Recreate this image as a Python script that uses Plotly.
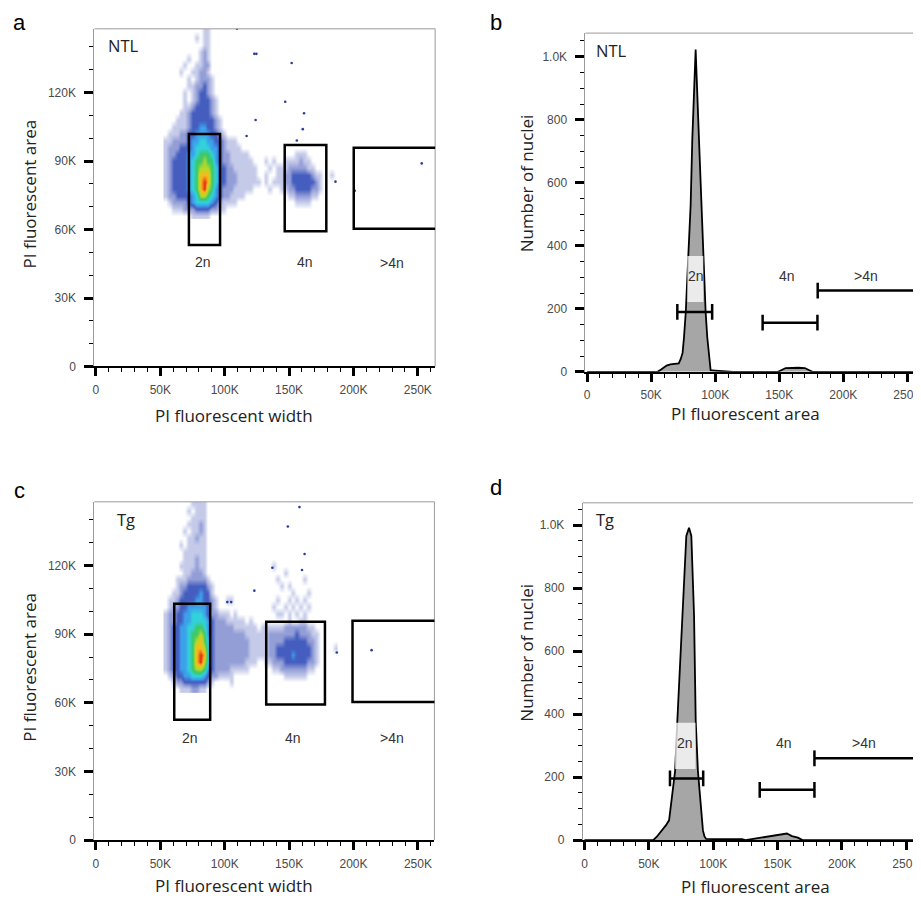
import plotly.graph_objects as go

# ---------------- data ----------------
W, H = 921, 906           # target window
OFF = 8                   # default page margin around the plot div
FW, FH = W - OFF, H - OFF  # figure size so that its right/bottom meet the window edge

# tick labels
scatter_x_tickvals = [0, 50000, 100000, 150000, 200000, 250000]
scatter_x_ticktext = ["0", "50K", "100K", "150K", "200K", "250K"]
scatter_y_tickvals = [0, 30000, 60000, 90000, 120000]
scatter_y_ticktext = ["0", "30K", "60K", "90K", "120K"]
hist_y_tickvals = [0, 200, 400, 600, 800, 1000]
hist_y_ticktext = ["0", "200", "400", "600", "800", "1.0K"]

# density grid (values in thousands); rows listed from top (147K) to bottom (66K)
grid_x_k = [54, 57, 60, 63, 66, 69, 72, 75, 78, 81, 84, 87, 90, 93, 96, 99, 102, 105, 108, 111,
            114, 117, 120, 123, 126, 129, 132, 135, 138, 141, 144, 147, 150, 153, 156, 159, 162,
            165, 168, 171, 174, 177, 180, 183, 186]
grid_y_k = [147, 144, 141, 138, 135, 132, 129, 126, 123, 120, 117, 114, 111, 108, 105, 102, 99,
            96, 93, 90, 87, 84, 81, 78, 75, 72, 69, 66]

# density level 0..9 per cell (estimated colour level of the dot cloud)
ntl_density_rows = [
    "00000 00000 11000 00000 00000 00000 00000 00000 00000",  # 147
    "00000 00010 11000 00000 00000 00000 00000 00000 00000",  # 144
    "00000 00000 11000 00000 00000 00000 00000 00000 00000",  # 141
    "00000 00001 21000 00000 00000 00000 00000 00000 00000",  # 138
    "00000 01001 21000 00000 00000 00000 00000 00000 00000",  # 135
    "00000 10011 22000 00000 00000 00000 00000 00000 00000",  # 132
    "00001 00112 21000 00000 00000 00000 00000 00000 00000",  # 129
    "00000 01012 22100 00000 00000 00000 00000 00000 00000",  # 126
    "00000 01122 32100 00000 00000 00000 00000 00000 00000",  # 123
    "00000 10123 32100 00000 00000 00000 00000 00000 00000",  # 120
    "00000 10123 33210 00000 00000 00000 00000 00000 00000",  # 117
    "00000 11233 33210 00000 00000 00000 00000 00000 00000",  # 114
    "00001 12333 33210 00000 00000 00000 00000 00000 00000",  # 111
    "00011 12333 33321 00000 00000 00000 00000 00000 00000",  # 108
    "00111 12334 43321 00000 00000 00000 00000 00000 00000",  # 105
    "01112 23344 44332 10000 00000 00000 00000 00000 00000",  # 102
    "11222 23445 54433 21110 00000 00000 00000 00000 00000",  # 99
    "12223 33455 55443 21111 00000 00000 00000 00000 00000",  # 96
    "12233 34456 66543 22111 11000 00000 00001 11000 00000",  # 93
    "12333 34566 76643 22111 11100 01010 01111 21100 00000",  # 90
    "12333 34567 77653 32211 11110 00101 11222 22110 00000",  # 87
    "12333 34568 88653 32221 11110 01001 12233 33321 10010",  # 84
    "12333 34568 98653 32221 11111 01011 12233 33332 10000",  # 81
    "12333 34568 97643 22211 11100 00100 11223 33322 10000",  # 78
    "12233 33457 76543 22111 10000 00000 00112 22211 00000",  # 75
    "01222 23455 55432 11110 00000 00000 00001 11100 00000",  # 72
    "00111 22233 33221 10000 00000 00000 00000 00000 00000",  # 69
    "00000 00111 11000 00000 00000 00000 00000 00000 00000",  # 66
]
tg_density_rows = [
    "00000 00111 10000 00000 00000 00000 00000 00000 00000",  # 147
    "00000 01011 10000 00000 00000 00000 00000 00000 00000",  # 144
    "00000 00111 10000 00000 00000 00000 00000 00000 00000",  # 141
    "00000 01112 10000 00000 00000 00000 00000 00000 00000",  # 138
    "00000 10112 10000 00000 00000 00000 00000 00000 00000",  # 135
    "00000 01121 10000 00000 00000 00000 00000 00000 00000",  # 132
    "00001 01111 10000 00000 00000 00000 00000 00000 00000",  # 129
    "00000 11111 10000 00000 00000 00000 00000 00000 00000",  # 126
    "00000 11121 10000 00000 00000 00000 00000 00000 00000",  # 123
    "00001 11121 10000 00000 00000 00010 00000 00000 00000",  # 120
    "00000 11222 10000 00000 00000 00000 01000 00000 00000",  # 117
    "00011 12222 21000 00000 00000 00001 00000 01000 00000",  # 114
    "00012 23333 32100 00000 00000 00000 10100 00000 00000",  # 111
    "00112 33334 33100 00000 00000 00000 00010 00100 00000",  # 108
    "01123 33344 33210 01100 00000 00001 00101 01000 00000",  # 105
    "01223 34444 43210 00000 00000 00010 01010 10100 00000",  # 102
    "12233 44555 43221 11010 00000 00001 10101 01000 00000",  # 99
    "12233 44555 54322 21111 10100 00000 00100 11000 00000",  # 96
    "12334 45566 54322 22211 11110 11111 12222 22110 00000",  # 93
    "12334 45667 64322 22222 21111 11222 22223 22211 00000",  # 90
    "12334 45678 65322 22222 22111 11222 23333 33221 00000",  # 87
    "12334 45688 75322 22222 22111 11223 33333 33321 00001",  # 84
    "12334 45689 85322 22222 22111 11223 33343 33321 00000",  # 81
    "12334 45689 75322 22222 21110 01122 23333 33221 00000",  # 78
    "12334 45677 64322 22111 11000 00011 22222 22110 00000",  # 75
    "01233 44555 43221 11100 00000 00000 01111 11000 00000",  # 72
    "00122 33333 32100 00100 00000 00000 00000 00000 00000",  # 69
    "00001 11221 10000 00000 00000 00000 00000 00000 00000",  # 66
]

# isolated events (thousands)
ntl_out_x_k = [123, 124.6, 152, 147, 161.6, 160.6, 156, 124, 117, 253, 201, 186, 109.5]
ntl_out_y_k = [137, 137, 133, 116, 111, 104, 99, 108, 101, 89, 77, 81, 148]
tg_out_x_k = [149, 162, 187, 214, 158, 123, 137, 160, 102, 105]
tg_out_y_k = [137, 125, 82, 83, 145.5, 109, 119, 118, 104, 104]

# scatter gates (thousands): name, x0, x1, y0, y1
ntl_boxes = [("2n", 72.2, 96.4, 53.2, 101.9), ("4n", 146.6, 178.9, 59.3, 97.1), (">4n", 200.2, 262.144, 60.4, 95.8)]
tg_boxes = [("2n", 60.8, 88.7, 52.6, 103.3), ("4n", 132.2, 177.8, 59.3, 95.4), (">4n", 199.2, 262.144, 60.3, 95.8)]
ntl_box_labels = [("2n", 83.3, 45.8), ("4n", 162.0, 45.8), (">4n", 230.0, 45.3)]
tg_box_labels = [("2n", 73.4, 44.6), ("4n", 153.0, 44.6), (">4n", 230.0, 44.6)]

# histograms (x in thousands, counts)
ntl_hist_x_k = [0, 55, 58, 62, 65, 71.5, 73, 74.5, 75.6, 77, 79, 80.8, 82.1, 84.7, 87.3, 89.1, 90.4,
                92.5, 93.8, 95.1, 96.4, 100, 112, 114, 149, 152, 155, 165, 170, 173, 176, 262.144]
ntl_hist_counts = [0, 0, 8, 20, 24, 27, 40, 60, 109, 190, 371, 529, 739, 1023, 739, 529, 371,
                   190, 109, 50, 5, 4, 2, 0, 0, 5, 12, 13, 12, 6, 0, 0]
tg_hist_x_k = [0, 53.4, 56, 59.3, 63.2, 65.7, 67.0, 68.8, 70.4, 72.1, 74, 76.0, 79.1, 81.2, 83.0,
               85.1, 86.4, 88.1, 90.2, 91.2, 92.0, 93.2, 94.5, 100, 110, 122.4, 125, 130, 137.9,
               145.6, 152, 157.2, 161.1, 165.7, 169.3, 262.144]
tg_hist_counts = [0, 0, 10, 26, 47, 63, 105, 160, 220, 378, 540, 714, 966, 992, 966, 714, 378,
                  220, 105, 60, 31, 12, 4, 3, 3, 3, 0, 3, 8, 13, 16, 21, 13, 8, 0, 0]

# histogram gates: name, x0 (K), x1 (K), count level
ntl_gates = [("2n", 70.4, 97.6, 190), ("4n", 137.0, 179.8, 156), (">4n", 180.0, 262.144, 258)]
tg_gates = [("2n", 66.4, 92.2, 196), ("4n", 136.1, 178.6, 160), (">4n", 178.6, 262.144, 260)]
ntl_gate_labels = [("2n", 84.7, 303), ("4n", 156.2, 303), (">4n", 218.1, 303)]
tg_gate_labels = [("2n", 78.4, 307), ("4n", 155.0, 307), (">4n", 216.9, 307)]
ntl_label_bg = (78.2, 90.7, 222, 368)
tg_label_bg = (70.4, 86.3, 226, 373)

# ---------------- figure ----------------
TICK_FONT = dict(family="Liberation Sans, Arial, sans-serif", size=12, color="#4a4a4a")
TITLE_FONT = dict(family="Open Sans, sans-serif", size=17, color="#222")


def fx(px):
    return (px - OFF) / FW


def fy(py):
    return 1 - (py - OFF) / FH


colorscale = [
    [0.0, "rgba(40,60,170,0)"],
    [1 / 9, "rgba(45,65,175,0.28)"],
    [2 / 9, "rgba(40,62,175,0.5)"],
    [3 / 9, "rgba(35,65,180,0.85)"],
    [4 / 9, "rgb(60,160,235)"],
    [5 / 9, "rgb(50,210,220)"],
    [6 / 9, "rgb(60,200,105)"],
    [7 / 9, "rgb(180,218,40)"],
    [8 / 9, "rgb(250,185,30)"],
    [1.0, "rgb(230,40,20)"],
]


def parse(rows):
    return [[int(c) for c in r.replace(" ", "")] for r in rows]


fig = go.Figure()

for rows, ox, oy, xa, ya in [(ntl_density_rows, ntl_out_x_k, ntl_out_y_k, "x", "y"),
                             (tg_density_rows, tg_out_x_k, tg_out_y_k, "x3", "y3")]:
    z = parse(rows)[::-1]
    fig.add_trace(go.Heatmap(
        x=[v * 1000 for v in grid_x_k], y=[v * 1000 for v in grid_y_k[::-1]], z=z,
        zmin=0, zmax=9, colorscale=colorscale, zsmooth="best", showscale=False,
        hoverinfo="skip", xaxis=xa, yaxis=ya))
    fig.add_trace(go.Scatter(
        x=[v * 1000 for v in ox], y=[v * 1000 for v in oy], mode="markers",
        marker=dict(size=2.6, color="#2b3d9a"), hoverinfo="skip", xaxis=xa, yaxis=ya,
        showlegend=False))

for hx, hc, xa, ya in [(ntl_hist_x_k, ntl_hist_counts, "x2", "y2"),
                       (tg_hist_x_k, tg_hist_counts, "x4", "y4")]:
    fig.add_trace(go.Scatter(
        x=[v * 1000 for v in hx], y=hc, mode="lines", fill="tozeroy",
        fillcolor="#a6a6a6", line=dict(color="black", width=1.8),
        hoverinfo="skip", xaxis=xa, yaxis=ya, showlegend=False))


def xaxis(domain, rng, anchor):
    return dict(domain=domain, range=rng, anchor=anchor, showline=True, linecolor="black",
                linewidth=2, ticks="outside", ticklen=8, tickwidth=2.5, tickcolor="black",
                tickmode="array", tickvals=scatter_x_tickvals, ticktext=scatter_x_ticktext,
                tickfont=TICK_FONT, showgrid=False, zeroline=False, ticklabelstandoff=3,
                ticklabeloverflow="allow",
                minor=dict(ticks="outside", ticklen=4, tickwidth=1.3, tickcolor="black",
                           tickmode="linear", tick0=0, dtick=10000, showgrid=False))


def yaxis(domain, rng, anchor, tv, tt, mdt):
    return dict(domain=domain, range=rng, anchor=anchor, showline=True, linecolor="#9a9a9a",
                linewidth=1, ticks="outside", ticklen=9, tickwidth=2.5, tickcolor="black",
                tickmode="array", tickvals=tv, ticktext=tt, tickfont=TICK_FONT,
                showgrid=False, zeroline=False, ticklabelstandoff=6,
                minor=dict(ticks="outside", ticklen=4, tickwidth=1.3, tickcolor="black",
                           tickmode="linear", tick0=0, dtick=mdt, showgrid=False))


dom = {
    "a": ([fx(92.7), fx(435)], [fy(369.3), fy(29)]),
    "b": ([fx(586), 1.0], [fy(374.7), fy(33.3)]),
    "c": ([fx(92.7), fx(434.3)], [fy(846.7), fy(505.7)]),
    "d": ([fx(583.3), 1.0], [fy(846.7), fy(506.7)]),
}

fig.update_layout(
    width=FW, height=FH, autosize=False, margin=dict(l=0, r=0, t=0, b=0),
    paper_bgcolor="white", plot_bgcolor="white", showlegend=False,
    xaxis=xaxis(dom["a"][0], [-1240, 263400], "y"),
    yaxis=yaxis(dom["a"][1], [0, 147960], "x", scatter_y_tickvals, scatter_y_ticktext, 10000),
    xaxis2=xaxis(dom["b"][0], [-1320, 259100], "y2"),
    yaxis2=yaxis(dom["b"][1], [0, 1075], "x2", hist_y_tickvals, hist_y_ticktext, 50),
    xaxis3=xaxis(dom["c"][0], [-1240, 262800], "y3"),
    yaxis3=yaxis(dom["c"][1], [0, 147800], "x3", scatter_y_tickvals, scatter_y_ticktext, 10000),
    xaxis4=xaxis(dom["d"][0], [-1310, 259800], "y4"),
    yaxis4=yaxis(dom["d"][1], [0, 1071], "x4", hist_y_tickvals, hist_y_ticktext, 50),
)

shapes = []
frame = dict(color="#9a9a9a", width=1)
for xa, ya, right in [("x", "y", True), ("x2", "y2", False), ("x3", "y3", True), ("x4", "y4", False)]:
    shapes.append(dict(type="line", xref=xa + " domain", yref=ya + " domain",
                       x0=0, x1=1, y0=1, y1=1, line=frame))
    if right:
        shapes.append(dict(type="line", xref=xa + " domain", yref=ya + " domain",
                           x0=1, x1=1, y0=0, y1=1, line=frame))

box_line = dict(color="black", width=2.5)
for boxes, xa, ya in [(ntl_boxes, "x", "y"), (tg_boxes, "x3", "y3")]:
    for name, x0, x1, y0, y1 in boxes:
        X0, X1, Y0, Y1 = x0 * 1000, x1 * 1000, y0 * 1000, y1 * 1000
        if name == ">4n":
            shapes.append(dict(type="path", xref=xa, yref=ya,
                               path=f"M {X1 + 5000},{Y0} L {X0},{Y0} L {X0},{Y1} L {X1 + 5000},{Y1}",
                               line=box_line))
        else:
            shapes.append(dict(type="rect", xref=xa, yref=ya, x0=X0, x1=X1, y0=Y0, y1=Y1,
                               line=box_line))

for bg, xa, ya in [(ntl_label_bg, "x2", "y2"), (tg_label_bg, "x4", "y4")]:
    shapes.append(dict(type="rect", xref=xa, yref=ya, x0=bg[0] * 1000, x1=bg[1] * 1000,
                       y0=bg[2], y1=bg[3], fillcolor="rgba(255,255,255,0.78)",
                       line=dict(width=0), layer="above"))

gate_line = dict(color="black", width=2.5)
for gates, xa, ya in [(ntl_gates, "x2", "y2"), (tg_gates, "x4", "y4")]:
    for name, x0, x1, lvl in gates:
        shapes.append(dict(type="line", xref=xa, yref=ya, x0=x0 * 1000, x1=x1 * 1000,
                           y0=lvl, y1=lvl, line=gate_line))
        for xe in (x0, x1):
            shapes.append(dict(type="line", xref=xa, yref=ya, x0=xe * 1000, x1=xe * 1000,
                               y0=lvl - 25, y1=lvl + 25, line=gate_line))

fig.update_layout(shapes=shapes)

ann = []
LBL_FONT = dict(family="Liberation Sans, Arial, sans-serif", size=14, color="#333")
for labels, xa, ya in [(ntl_box_labels, "x", "y"), (tg_box_labels, "x3", "y3")]:
    for t, x, y in labels:
        ann.append(dict(text=t, x=x * 1000, y=y * 1000, xref=xa, yref=ya, showarrow=False,
                        font=LBL_FONT, xanchor="center", yanchor="middle"))
for labels, xa, ya in [(ntl_gate_labels, "x2", "y2"), (tg_gate_labels, "x4", "y4")]:
    for t, x, y in labels:
        ann.append(dict(text=t, x=x * 1000, y=y, xref=xa, yref=ya, showarrow=False,
                        font=LBL_FONT, xanchor="center", yanchor="middle"))


def pa(text, px, py, font, angle=0, yanchor="middle"):
    ann.append(dict(text=text, x=fx(px), y=fy(py), xref="paper", yref="paper",
                    showarrow=False, font=font, textangle=angle,
                    xanchor="center", yanchor=yanchor))


GROUP_FONT = dict(family="Open Sans, sans-serif", size=16.5, color="#222")
LETTER_FONT = dict(family="Liberation Sans, Arial, sans-serif", size=22, color="black")
pa("NTL", 122, 45.5, GROUP_FONT)
pa("NTL", 612, 51, GROUP_FONT)
pa("Tg", 125, 524, GROUP_FONT)
pa("Tg", 606, 524, GROUP_FONT)
pa("a", 17.5, 8.5, LETTER_FONT, yanchor="top")
pa("b", 496, 8.5, LETTER_FONT, yanchor="top")
pa("c", 17.5, 494, LETTER_FONT)
pa("d", 496, 491, LETTER_FONT)
pa("PI fluorescent width", 233, 419, TITLE_FONT)
pa("PI fluorescent width", 233, 892, TITLE_FONT)
pa("PI fluorescent area", 747, 417, TITLE_FONT)
pa("PI fluorescent area", 757, 893, TITLE_FONT)
pa("PI fluorescent area", 28, 195, TITLE_FONT, -90)
pa("PI fluorescent area", 28, 672, TITLE_FONT, -90)
pa("Number of nuclei", 527, 185, TITLE_FONT, -90)
pa("Number of nuclei", 527, 658, TITLE_FONT, -90)

fig.update_layout(annotations=ann)
fig.write_html("out.html")
